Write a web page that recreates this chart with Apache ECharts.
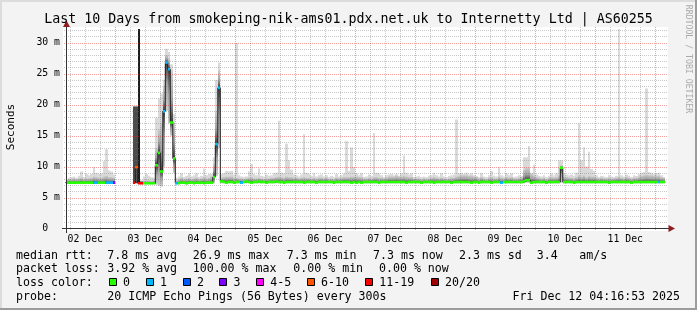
<!DOCTYPE html>
<html><head><meta charset="utf-8">
<script src="https://cdn.jsdelivr.net/npm/echarts@6/dist/echarts.min.js"></script>
<style>html,body{margin:0;padding:0;background:#f3f3f3}#c{width:697px;height:310px}</style>
</head><body><div id="c"></div>
<script>
// ---------- DATA (one value per hour, first bin = 02 Dec 04:00) ----------
const FIRST_HOUR = 4;            // hours after 02 Dec 00:00
const VIEW_START = 4.28, VIEW_END = 244.28;   // 02 Dec 04:16 .. 12 Dec 04:16
const median = [
/*02*/ 7.4,7.4,7.4,7.4,7.4,7.4,7.4,7.4,7.4,7.4,7.4,7.4,7.4,7.4,7.4,7.4,7.4,7.4,7.4,7.4,
/*03*/ null,null,null,null,null,null,null,7.4,9.9,7.3,7.3,7.3,7.3,7.3,7.3,7.3,10.2,12.2,9.2,18.9,26.8,25.7,17.1,11.3,
/*04*/ 7.3,7.3,7.4,7.4,7.3,7.4,7.4,7.3,7.4,7.4,7.4,7.3,7.4,7.4,7.4,8.3,13.6,22.7,7.6,7.5,7.4,7.5,7.5,7.4,
/*05*/ 7.5,7.5,7.4,7.5,7.6,7.5,7.4,7.5,7.5,7.6,7.5,7.5,7.4,7.5,7.5,7.5,7.6,7.5,7.5,7.4,7.5,7.5,7.5,7.5,
/*06*/ 7.5,7.5,7.5,7.4,7.5,7.5,7.5,7.5,7.4,7.5,7.5,7.5,7.5,7.5,7.5,7.4,7.5,7.5,7.5,7.5,7.5,7.5,7.4,7.5,
/*07*/ 7.4,7.5,7.4,7.5,7.5,7.5,7.5,7.5,7.5,7.4,7.5,7.5,7.5,7.5,7.5,7.5,7.5,7.5,7.5,7.5,7.4,7.5,7.5,7.5,
/*08*/ 7.5,7.5,7.4,7.5,7.5,7.5,7.5,7.4,7.5,7.5,7.5,7.5,7.5,7.5,7.4,7.5,7.5,7.5,7.5,7.5,7.5,7.5,7.4,7.5,
/*09*/ 7.5,7.4,7.5,7.5,7.5,7.5,7.4,7.5,7.5,7.5,7.4,7.5,7.5,7.5,7.5,7.5,7.5,7.5,7.5,7.6,7.8,7.8,7.4,7.5,
/*10*/ 7.5,7.5,7.5,7.5,7.4,7.5,7.5,7.5,7.5,7.5,9.8,7.5,7.5,7.5,7.5,7.4,7.5,7.5,7.5,7.5,7.5,7.5,7.5,7.5,
/*11*/ 7.5,7.5,7.5,7.5,7.5,7.4,7.5,7.5,7.5,7.5,7.5,7.5,7.5,7.5,7.4,7.5,7.5,7.5,7.5,7.5,7.5,7.5,7.5,7.5,
/*12*/ 7.5,7.5,7.5,7.5
];
// lost pings out of 20
const loss = [
/*02*/ 0,0,0,0,0,0,0,0,0,0,0,1,1,0,0,0,1,1,1,3,
/*03*/ 20,20,20,20,20,20,20,15,8,19,15,0,0,0,0,0,0,0,0,1,1,1,0,0,
/*04*/ 1,0,0,0,0,0,0,0,0,0,0,0,0,0,0,0,1,1,0,0,0,0,0,0,
/*05*/ 0,0,1,0,0,0,0,0,0,0,0,0,0,0,0,0,0,0,0,0,0,0,0,0,
/*06*/ 0,0,0,0,0,0,0,0,0,0,0,0,0,0,0,0,0,0,0,0,0,0,0,0,
/*07*/ 0,0,0,0,0,0,0,0,0,0,0,0,0,0,0,0,0,0,0,0,0,0,0,0,
/*08*/ 0,0,0,0,0,0,0,0,0,0,0,0,0,0,0,0,0,0,0,0,0,0,0,0,
/*09*/ 0,0,0,0,0,0,0,0,0,0,1,0,0,0,0,0,0,0,0,0,0,0,0,0,
/*10*/ 0,0,0,0,0,0,0,0,0,0,0,0,0,0,0,0,0,0,0,0,0,0,0,0,
/*11*/ 0,0,0,0,0,0,0,0,0,0,0,0,0,0,0,0,0,0,0,0,0,0,0,0,
/*12*/ 0,1,0,0
];
// lower edge of the smoke (ms)
const smokeLow = [
/*02*/ 7.3,7.3,7.3,7.3,7.3,7.3,7.3,7.3,7.3,7.3,7.3,7.3,7.3,7.3,7.3,7.3,7.3,7.3,7.3,7.3,
/*03*/ null,null,null,null,null,null,null,7.3,7.3,7.3,7.2,7.2,7.2,7.2,7.2,7.2,7.1,6.9,6.8,10.0,19.0,17.0,15.0,9.0,
/*04*/ 7.2,7.3,7.3,7.3,7.3,7.3,7.3,7.3,7.3,7.3,7.3,7.3,7.3,7.3,7.3,7.3,8.5,13.0,7.3,7.3,7.3,7.3,7.3,7.3,
/*05*/ 7.3,7.3,7.3,7.3,7.3,7.3,7.3,7.3,7.3,7.3,7.3,7.3,7.3,7.3,7.3,7.3,7.3,7.3,7.3,7.3,7.3,7.3,7.3,7.3,
/*06*/ 7.3,7.3,7.3,7.3,7.3,7.3,7.3,7.3,7.3,7.3,7.3,7.3,7.3,7.3,7.3,7.3,7.3,7.3,7.3,7.3,7.3,7.3,7.3,7.3,
/*07*/ 7.3,7.3,7.3,7.3,7.3,7.3,7.3,7.3,7.3,7.3,7.3,7.3,7.3,7.3,7.3,7.3,7.3,7.3,7.3,7.3,7.3,7.3,7.3,7.3,
/*08*/ 7.3,7.3,7.3,7.3,7.3,7.3,7.3,7.3,7.3,7.3,7.3,7.3,7.3,7.3,7.3,7.3,7.3,7.3,7.3,7.3,7.3,7.3,7.3,7.3,
/*09*/ 7.3,7.3,7.3,7.3,7.3,7.3,7.3,7.3,7.3,7.3,7.3,7.3,7.3,7.3,7.3,7.3,7.3,7.3,7.3,7.3,7.4,7.4,7.3,7.3,
/*10*/ 7.3,7.3,7.3,7.3,7.3,7.3,7.3,7.3,7.3,7.3,7.4,7.3,7.3,7.3,7.3,7.3,7.3,7.3,7.3,7.3,7.3,7.3,7.3,7.3,
/*11*/ 7.3,7.3,7.3,7.3,7.3,7.3,7.3,7.3,7.3,7.3,7.3,7.3,7.3,7.3,7.3,7.3,7.3,7.3,7.3,7.3,7.3,7.3,7.3,7.3,
/*12*/ 7.3,7.3,7.3,7.3
];
// upper edge of the dense smoke core (ms)
const smokeCore = [
/*02*/ 7.9,8.0,8.0,8.1,8.0,8.1,8.2,8.0,8.1,8.1,8.2,8.4,8.3,8.2,8.2,8.4,8.5,8.3,8.3,8.2,
/*03*/ null,null,null,null,null,null,null,19.7,19.7,32.5,7.6,7.7,7.8,7.8,7.7,7.8,13.0,16.0,17.0,23.0,28.0,27.5,25.5,17.0,
/*04*/ 7.8,8.0,8.2,8.0,8.1,8.2,8.0,8.1,8.2,8.0,8.1,8.3,8.1,8.2,8.4,10.5,19.0,25.5,8.2,8.3,8.4,8.4,8.4,8.2,
/*05*/ 8.2,8.1,8.1,8.0,8.1,8.2,8.3,8.1,8.1,8.2,8.1,8.0,8.1,8.1,8.2,8.2,8.3,8.4,8.3,8.2,8.4,8.3,8.3,8.2,
/*06*/ 8.2,8.1,8.2,8.3,8.2,8.2,8.1,8.2,8.1,8.2,8.2,8.1,8.2,8.0,8.1,8.0,8.2,8.1,8.2,8.3,8.3,8.3,8.4,8.4,
/*07*/ 8.4,8.3,8.3,8.1,8.1,8.2,8.1,8.3,8.3,8.2,8.2,8.1,8.2,8.4,8.4,8.4,8.5,8.4,8.4,8.5,8.4,8.3,8.3,8.1,
/*08*/ 8.1,8.1,8.0,8.1,8.0,8.1,8.2,8.3,8.2,8.1,8.2,8.1,8.0,8.1,8.2,8.2,8.4,8.5,8.6,8.6,8.6,8.5,8.5,8.4,
/*09*/ 8.3,8.1,8.3,8.1,8.0,8.2,8.3,8.1,8.1,8.4,8.2,8.1,8.3,8.2,8.3,8.1,8.1,8.2,8.3,9.5,9.8,9.8,8.8,8.6,
/*10*/ 8.3,8.2,8.1,8.2,8.0,8.2,8.3,8.2,8.3,8.6,10.2,8.4,8.3,8.2,8.2,8.1,8.3,8.6,8.4,8.6,8.3,8.5,8.4,8.4,
/*11*/ 8.2,8.1,8.2,8.1,8.1,8.2,8.1,8.1,8.2,8.4,8.2,8.1,8.3,8.2,8.1,8.2,8.2,8.4,8.5,8.6,8.7,8.6,8.6,8.5,
/*12*/ 8.5,8.5,8.3,8.2
];
// highest ping of the hour (ms)
const smokeMax = [
/*02*/ 8.0,8.2,8.3,8.4,8.2,8.5,9.2,8.3,8.8,8.6,8.8,9.9,9.0,8.8,8.9,10.9,12.8,9.4,9.2,8.7,
/*03*/ null,null,null,null,null,null,null,19.7,19.7,32.5,7.8,8.4,8.8,8.5,8.3,8.2,17.9,21.0,21.8,24.0,29.0,28.5,26.5,18.5,
/*04*/ 8.2,8.4,8.9,8.3,8.5,8.9,8.4,8.6,8.9,8.3,8.5,9.7,8.6,8.8,8.8,11.5,24.0,26.8,8.8,8.9,9.3,9.2,9.3,8.7,
/*05*/ 29.9,8.6,8.4,8.3,8.4,9.2,10.4,8.8,8.6,9.7,8.5,8.4,8.7,8.5,8.6,8.9,9.0,17.4,9.0,8.9,13.7,11.0,9.5,8.7,
/*06*/ 8.6,8.4,8.7,15.2,9.0,8.8,8.5,8.9,8.4,8.6,8.7,8.4,8.6,8.3,8.5,8.3,8.8,8.4,8.6,8.9,14.1,9.3,13.1,9.9,
/*07*/ 8.9,8.6,8.9,8.3,8.4,8.7,8.5,15.4,9.0,8.9,8.6,8.3,8.6,8.7,8.8,8.6,8.8,8.5,8.9,11.8,9.0,8.7,8.9,8.3,
/*08*/ 8.4,8.5,8.3,8.4,8.3,8.5,8.6,9.0,8.6,8.4,8.9,8.4,8.3,8.5,8.6,8.7,17.6,8.9,9.0,8.8,9.0,8.7,8.9,8.6,
/*09*/ 8.5,8.3,8.9,8.4,8.3,8.6,9.3,8.5,8.4,9.9,8.6,8.4,8.9,8.6,8.9,8.3,8.4,8.6,8.5,11.5,11.5,13.3,9.0,10.3,
/*10*/ 8.7,8.5,8.4,8.6,8.3,8.5,8.9,8.6,8.9,11.0,11.0,8.9,8.7,8.6,8.7,8.5,9.0,17.0,11.0,13.1,10.0,12.4,9.6,9.3,
/*11*/ 8.6,8.3,8.5,8.4,8.3,8.6,8.4,8.3,8.5,32.5,8.6,8.4,8.7,8.5,8.3,8.6,8.5,8.8,9.0,9.1,22.6,9.1,9.0,8.8,
/*12*/ 8.9,9.0,8.6,8.3
];
const dayLabels = ['02 Dec','03 Dec','04 Dec','05 Dec','06 Dec','07 Dec','08 Dec','09 Dec','10 Dec','11 Dec'];
const lossLabels = ['0','1','2','3','4-5','6-10','11-19','20/20'];
const lossUpper  = [0, 1, 2, 3, 5, 10, 19, 20];
const lossColors = ['#26ff00','#00b8ff','#0059ff','#7e00ff','#ff00ff','#ff5500','#ff0000','#a10000'];
const rttStats  = ['7.8 ms avg','26.9 ms max','7.3 ms min','7.3 ms now','2.3 ms sd','3.4','am/s'];
const lossStats = ['3.92 % avg','100.00 % max','0.00 % min','0.00 % now'];
const titleText = 'Last 10 Days from smokeping-nik-ams01.pdx.net.uk to Internetty Ltd | AS60255';
const probeText = '20 ICMP Echo Pings (56 Bytes) every 300s';
const dateText  = 'Fri Dec 12 04:16:53 2025';

// ---------- LAYOUT ----------
const MONO = '"DejaVu Sans Mono", monospace';
const GL = 66, GT = 29, GR = 666, GB = 228.5;
const Y_MAX = 32.2;

function lossColor(l){ for (let i=0;i<lossUpper.length;i++) if (l<=lossUpper[i]) return lossColors[i]; return lossColors[lossColors.length-1]; }

const smokeData = [], markData = [], lineData = [];
median.forEach((m,i)=>{
  const h = FIRST_HOUR + i;
  lineData.push([h, m == null ? '-' : m]);
  if (m != null) {
    smokeData.push([h, smokeLow[i], smokeCore[i], smokeMax[i], m, loss[i]]);
    markData.push([h, m, loss[i]]);
  }
});
lineData.push([FIRST_HOUR + median.length, median[median.length-1]]);

const gridTicks = [];
for (let h = 6; h <= 240; h += 6) gridTicks.push(['v', h]);
for (let v = 1; v <= 32; v++) gridTicks.push(['h', v]);

function xRange(api, cs, h){
  const a = Math.max(cs.x, Math.round(api.coord([h,0])[0]));
  const b = Math.min(cs.x + cs.width, Math.round(api.coord([h+1,0])[0]));
  return [a,b];
}

function renderSmoke(params, api){
  const cs = params.coordSys;
  const h = api.value(0), lo = api.value(1), hi = api.value(2), mx = api.value(3), md = api.value(4), ls = api.value(5);
  const [xa, xb] = xRange(api, cs, h);
  const py = v => Math.max(cs.y, Math.min(cs.y + cs.height, api.coord([h, v])[1]));
  const yLo = py(lo), yHi = py(hi), yMx = py(mx), yMd = py(md);
  const ch = [];
  ch.push({type:'rect', shape:{x:xa, y:yMx, width:xb-xa, height:Math.max(0,yLo-yMx)}, style:{fill:'#dadada'}});
  let fill;
  if (ls >= 6) fill = ls >= 19 ? '#1c1c1c' : '#4c4c4c';
  else {
    const span = yLo - yHi;
    const m = span > 0 ? Math.min(1, Math.max(0, (yMd - yHi)/span)) : 0.5;
    fill = new echarts.graphic.LinearGradient(0,0,0,1,[
      {offset:0, color:'#cccccc'},
      {offset:m*0.55, color:'#a2a2a2'},
      {offset:m, color:'#3a3a3a'},
      {offset:m+(1-m)*0.45, color:'#a2a2a2'},
      {offset:1, color:'#cccccc'}]);
  }
  ch.push({type:'rect', shape:{x:xa, y:yHi, width:xb-xa, height:Math.max(0,yLo-yHi)}, style:{fill}});
  return {type:'group', children: ch};
}

function renderMark(params, api){
  const cs = params.coordSys;
  const h = api.value(0), md = api.value(1), ls = api.value(2);
  const [xa, xb] = xRange(api, cs, h);
  const y = api.coord([h, md])[1];
  return {type:'rect', shape:{x:xa, y:y-1.3, width:xb-xa, height:2.6}, style:{fill:lossColor(ls)}};
}

function renderGrid(params, api){
  const cs = params.coordSys;
  const kind = gridTicks[params.dataIndex][0];
  const v = api.value(1);
  if (kind === 'v') {
    const x = Math.round(api.coord([v, 0])[0]) + 0.5;
    const major = v % 24 === 0;
    return {type:'line', shape:{x1:x, y1:cs.y-2, x2:x, y2:cs.y+cs.height+2},
      style:{stroke: major ? 'rgba(230,40,40,0.45)' : 'rgba(120,120,120,0.4)', lineWidth:1, lineDash:[1,1]}};
  }
  const y = Math.round(api.coord([VIEW_START, v])[1]) + 0.5;
  const major = v % 5 === 0;
  return {type:'line', shape:{x1:cs.x-2, y1:y, x2:cs.x+cs.width+2, y2:y},
    style:{stroke: major ? 'rgba(230,40,40,0.45)' : 'rgba(120,120,120,0.4)', lineWidth:1, lineDash:[1,1]}};
}

function txt(text, x, y, size, opts){
  opts = opts || {};
  const align = opts.align || 'left';
  return {type:'text', x, y, rotation: opts.rotation || 0, z: 100,
    style:{text, x:0, y:0, fill: opts.fill || '#000', font: size + 'px ' + MONO,
      align, textAlign: align, verticalAlign:'middle', textVerticalAlign:'middle'}};
}

const graphics = [];
// frame
graphics.push({type:'rect', z:-2, shape:{x:0,y:0,width:697,height:310}, style:{fill:'#f3f3f3'}});
graphics.push({type:'rect', z:-1, shape:{x:63,y:27,width:605,height:204}, style:{fill:'#ffffff'}});
graphics.push({type:'rect', z:100, shape:{x:0,y:0,width:697,height:2}, style:{fill:'#dcdcdc'}});
graphics.push({type:'rect', z:100, shape:{x:0,y:0,width:2,height:310}, style:{fill:'#dcdcdc'}});
graphics.push({type:'rect', z:100, shape:{x:0,y:308,width:697,height:2}, style:{fill:'#9c9c9c'}});
graphics.push({type:'rect', z:100, shape:{x:695,y:0,width:2,height:310}, style:{fill:'#9c9c9c'}});
// axes + arrows
graphics.push({type:'line', z:90, shape:{x1:62, y1:GB, x2:669, y2:GB}, style:{stroke:'#333', lineWidth:1}});
graphics.push({type:'line', z:90, shape:{x1:GL+0.5, y1:233, x2:GL+0.5, y2:26}, style:{stroke:'#333', lineWidth:1}});
graphics.push({type:'polygon', z:91, shape:{points:[[GL+0.5,20.5],[GL-3,27],[GL+4,27]]}, style:{fill:'#8f1d1d'}});
graphics.push({type:'polygon', z:91, shape:{points:[[675,GB],[668.5,GB-3.5],[668.5,GB+3.5]]}, style:{fill:'#8f1d1d'}});
// titles
graphics.push(txt(titleText, 348.5, 19.8, 13.3, {align:'center'}));
graphics.push(txt('Seconds', 11, 127, 11, {align:'center', rotation: Math.PI/2}));
graphics.push(txt('RRDTOOL / TOBI OETIKER', 688, 59, 8.2, {align:'center', rotation: -Math.PI/2, fill:'#aaaaaa'}));
// legend
const LF = 11.6, L1 = 255.5, L2 = 269.2, L3 = 283, L4 = 296.7;
graphics.push(txt('median rtt:', 16, L1, LF));
const rttX = [107.3, 192.7, 286.7, 373, 459, 536.7, 579.3];
rttStats.forEach((s,i)=>graphics.push(txt(s, rttX[i], L1, LF)));
graphics.push(txt('packet loss:', 16, L2, LF));
const lossX = [107.3, 192.7, 293.3, 379];
lossStats.forEach((s,i)=>graphics.push(txt(s, lossX[i], L2, LF)));
graphics.push(txt('loss color:', 16, L3, LF));
const boxX = [108.7, 145.7, 182.7, 219.3, 256, 306.7, 365, 430.7];
lossLabels.forEach((s,i)=>{
  graphics.push({type:'rect', z:100, shape:{x:Math.round(boxX[i])+0.5, y:278.5, width:7, height:7}, style:{fill:lossColors[i], stroke:'#000', lineWidth:1}});
  graphics.push(txt(s, boxX[i]+14.3, L3, LF));
});
graphics.push(txt('probe:', 16, L4, LF));
graphics.push(txt(probeText, 107.3, L4, LF));
graphics.push(txt(dateText, 680, L4, LF, {align:'right'}));

const chart = echarts.init(document.getElementById('c'), null, {renderer:'canvas', width:697, height:310});
chart.setOption({
  animation: false,
  backgroundColor: '#f3f3f3',
  grid: {left: GL, top: GT, width: GR-GL, height: GB-GT, outerBoundsMode: 'none', containLabel: false},
  xAxis: {type:'value', min: VIEW_START, max: VIEW_END,
    axisLine:{show:false}, axisTick:{show:false}, splitLine:{show:false},
    axisLabel:{customValues: dayLabels.map((_,i)=>12+24*i),
      formatter: v => dayLabels[Math.round((v-12)/24)] || '',
      fontFamily: MONO, fontSize: 9.8, color:'#000', margin: 5.5}},
  yAxis: {type:'value', min:0, max:Y_MAX, interval:5,
    axisLine:{show:false}, axisTick:{show:false}, splitLine:{show:false},
    axisLabel:{formatter: v => (v % 5 !== 0 ? '' : (v === 0 ? '0\u00a0\u00a0' : v + ' m')),
      fontFamily: MONO, fontSize: 9.8, color:'#000', margin: 6, showMaxLabel:false}},
  graphic: graphics,
  series: [
    {type:'custom', name:'smoke', z:1, data: smokeData, renderItem: renderSmoke, silent:true},
    {type:'custom', name:'grid', z:2, data: gridTicks.map(t=>[0, t[1]]), renderItem: renderGrid, silent:true},
    {type:'line', name:'median', z:3, data: lineData, step:'end', showSymbol:false, symbol:'none',
      lineStyle:{color:'#202020', width:1}, silent:true},
    {type:'custom', name:'loss', z:4, data: markData, renderItem: renderMark, silent:true}
  ]
});
</script></body></html>
